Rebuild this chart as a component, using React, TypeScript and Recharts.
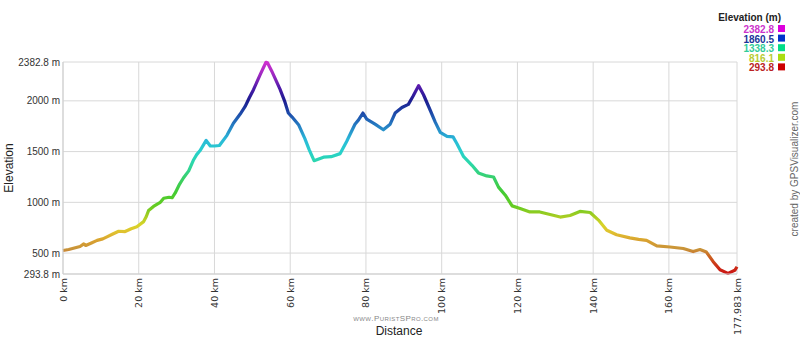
import React from "react";
import { LineChart, Line, XAxis, YAxis, CartesianGrid } from "recharts";

// distance along the track (km) and elevation (m)
const distanceKm = [
  0, 1.5, 3, 4.5, 5.5, 6, 7.5, 9, 10.5, 11.6, 13, 14.7, 16.4, 18, 19.5, 21.3,
  22, 22.6, 23.9, 25, 25.7, 26.6, 28, 28.8, 29.6, 30.8, 31.8, 33.2, 34.5, 35.3,
  36.2, 37.8, 38.9, 40, 41.3, 43.3, 45, 46.8, 48.1, 49.2, 50.3, 52.1, 53.6, 54,
  55.1, 57.3, 58.5, 59.5, 60.5, 62.2, 63.9, 65, 66.3, 68.8, 70.8, 73.2, 74.9,
  77.1, 78, 79.2, 80.2, 82.4, 84.6, 86.4, 87.7, 89.5, 91.2, 92.5, 93.9, 95.2,
  97, 98.3, 99.6, 101.4, 103, 104, 105.8, 108, 109.7, 111.9, 113.7, 115, 116.8,
  118.6, 120.7, 123.3, 125.9, 128.6, 131.3, 133.9, 136.5, 139.2, 141.4, 143.6,
  146.2, 149.7, 152, 154.1, 156.8, 160.3, 163.8, 166.4, 168.2, 169.9, 171.7,
  173.5, 175.6, 177.4, 177.983,
];

const elevationM = [
  525, 535, 550, 565, 590, 575, 600, 625, 640, 660, 685, 715, 712, 740, 760, 810,
  860, 920, 960, 985, 1000, 1040, 1050, 1045, 1090, 1180, 1240, 1310, 1420, 1470,
  1510, 1610, 1555, 1555, 1560, 1660, 1780, 1870, 1945, 2030, 2110, 2260, 2380,
  2375, 2295, 2115, 2000, 1880, 1840, 1765, 1625, 1520, 1410, 1445, 1450, 1480,
  1600, 1770, 1810, 1880, 1820, 1770, 1715, 1770, 1880, 1935, 1965, 2050, 2150,
  2060, 1905, 1790, 1690, 1650, 1645, 1580, 1450, 1365, 1290, 1260, 1250, 1150,
  1070, 965, 940, 905, 905, 880, 855, 870, 910, 900, 825, 725, 680, 650, 635, 625,
  570, 560, 545, 515, 535, 510, 415, 335, 300, 330, 365,
];

const xTicks = [0, 20, 40, 60, 80, 100, 120, 140, 160, 177.983];
const yTicks = [293.8, 500, 1000, 1500, 2000, 2382.8];

const legendValues = ["2382.8", "1860.5", "1338.3", "816.1", "293.8"];
const legendText = ["#cc33cc", "#1a3399", "#33cc99", "#b8cc33", "#bb2222"];
const legendSwatch = ["#dd00dd", "#0033cc", "#00dd88", "#aadd11", "#cc0000"];

// elevation colour ramp, top of the scale first
const rampStops = [
  [0, "#d030d0"],
  [0.064, "#9a28c0"],
  [0.126, "#4a1aa8"],
  [0.183, "#1c1c90"],
  [0.24, "#1d48a8"],
  [0.303, "#2680c4"],
  [0.365, "#2ab8d8"],
  [0.422, "#28d0cc"],
  [0.48, "#2cd8a8"],
  [0.542, "#38d070"],
  [0.614, "#44cc33"],
  [0.681, "#66cc22"],
  [0.72, "#9ccc22"],
  [0.767, "#d8d428"],
  [0.805, "#e0c030"],
  [0.844, "#d8a030"],
  [0.882, "#c8943a"],
  [0.916, "#cc6622"],
  [0.949, "#cc3c1a"],
  [1, "#cc1111"],
];

const data = distanceKm.map((km, i) => ({ km, elev: elevationM[i] }));

const DistanceTick = ({ x, y, payload }: any) => (
  <text
    x={x}
    y={y}
    transform={`rotate(-90, ${x}, ${y})`}
    textAnchor="end"
    dominantBaseline="central"
    fontFamily="DejaVu Sans"
    fontSize={9.5}
    fill="#333"
  >
    {`${payload.value} km`}
  </text>
);

export default function App() {
  return (
    <div style={{ position: "absolute", left: 0, top: 0, width: 800, height: 337, background: "#fff" }}>
      <LineChart
        width={800}
        height={337}
        data={data}
        margin={{ top: 62, right: 63, bottom: 0, left: 0 }}
      >
        <defs>
          <linearGradient id="elevRamp" gradientUnits="userSpaceOnUse" x1="0" y1="62" x2="0" y2="274">
            {rampStops.map(([o, c]) => (
              <stop key={o as number} offset={o as number} stopColor={c as string} />
            ))}
          </linearGradient>
        </defs>
        <CartesianGrid stroke="#d8d8d8" strokeWidth={1} />
        <XAxis
          dataKey="km"
          type="number"
          domain={[0, 177.983]}
          ticks={xTicks}
          interval={0}
          height={63}
          tickSize={0}
          tickMargin={4}
          axisLine={{ stroke: "#cfcfcf" }}
          tick={<DistanceTick />}
        />
        <YAxis
          type="number"
          domain={[293.8, 2382.8]}
          ticks={yTicks}
          interval={0}
          width={63}
          tickSize={0}
          tickMargin={3}
          axisLine={{ stroke: "#cfcfcf" }}
          tickFormatter={(v: number) => `${v} m`}
          tick={{ fontSize: 10, fill: "#333", fontFamily: "Liberation Sans, Arial" }}
        />
        <Line
          type="linear"
          dataKey="elev"
          stroke="url(#elevRamp)"
          strokeWidth={3.2}
          strokeLinejoin="round"
          dot={false}
          isAnimationActive={false}
        />
      </LineChart>

      <svg
        width={800}
        height={337}
        style={{ position: "absolute", left: 0, top: 0, pointerEvents: "none" }}
        fontFamily="Liberation Sans, Arial"
      >
        <text
          x={9}
          y={168}
          transform="rotate(-90, 9, 168)"
          textAnchor="middle"
          dominantBaseline="central"
          fontSize={12}
          fill="#222"
        >
          Elevation
        </text>
        <text x={399} y={335} textAnchor="middle" fontSize={12} fill="#222">
          Distance
        </text>
        <text
          x={396}
          y={321}
          textAnchor="middle"
          fontSize={8}
          letterSpacing={0.4}
          fill="#888"
          style={{ fontVariant: "small-caps" }}
        >
          www.PuristSPro.com
        </text>
        <text
          x={794}
          y={169}
          transform="rotate(-90, 794, 169)"
          textAnchor="middle"
          dominantBaseline="central"
          fontSize={10}
          fill="#666"
        >
          created by GPSVisualizer.com
        </text>

        <text x={781} y={21} textAnchor="end" fontSize={10} fontWeight="bold" fill="#222">
          Elevation (m)
        </text>
        {legendValues.map((v, i) => (
          <g key={v}>
            <text
              x={774}
              y={33 + i * 9.6}
              textAnchor="end"
              fontSize={10}
              fontWeight="bold"
              fill={legendText[i]}
            >
              {v}
            </text>
            <rect x={778} y={25 + i * 9.6} width={7} height={7} fill={legendSwatch[i]} />
          </g>
        ))}
      </svg>
    </div>
  );
}
